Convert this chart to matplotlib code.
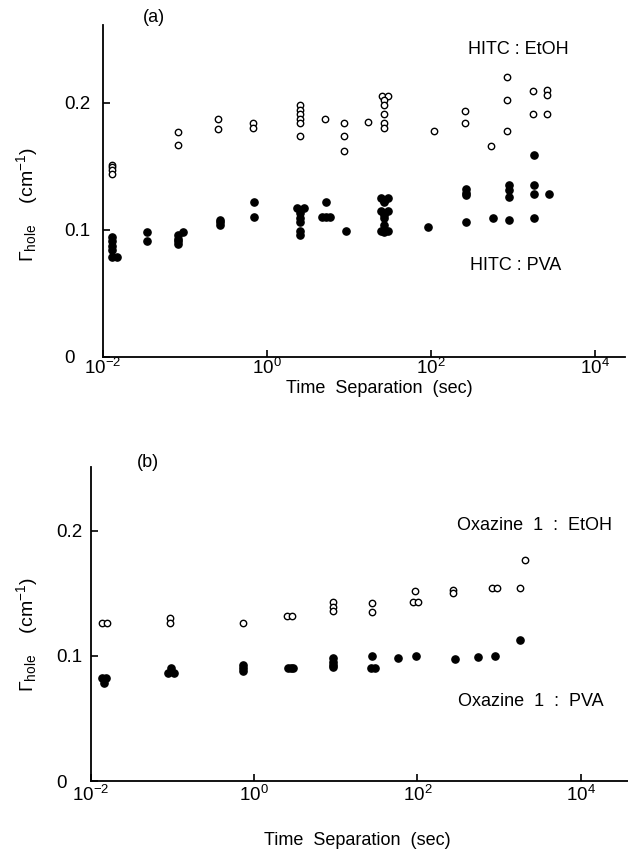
import numpy as np
import matplotlib
matplotlib.use("Agg")
import matplotlib.pyplot as plt
from matplotlib.ticker import FixedLocator

plt.rcParams['font.family'] = ['Liberation Sans', 'DejaVu Sans']
plt.rcParams['mathtext.fontset'] = 'custom'
plt.rcParams['mathtext.rm'] = 'Liberation Sans'
plt.rcParams['mathtext.it'] = 'Liberation Sans:italic'
plt.rcParams['mathtext.bf'] = 'Liberation Sans:bold'

# panel (a): HITC in ethanol (open) and in PVA (filled)
hitc_etoh_t = [0.013, 0.013, 0.013, 0.013, 0.082, 0.082, 0.25, 0.25, 0.67, 0.67,
               2.5, 2.5, 2.5, 2.5, 2.5, 2.5, 5.1, 8.7, 8.7, 8.7, 17,
               25, 30, 27, 27, 27, 27, 27, 110, 260, 260, 540, 850, 850, 850,
               1740, 1740, 2570, 2570, 2570]
hitc_etoh_g = [0.151, 0.149, 0.147, 0.144, 0.177, 0.167, 0.187, 0.179, 0.184, 0.180,
               0.198, 0.194, 0.191, 0.187, 0.184, 0.174, 0.187, 0.184, 0.174, 0.162, 0.185,
               0.205, 0.205, 0.202, 0.198, 0.191, 0.184, 0.180, 0.178, 0.193, 0.184, 0.166,
               0.220, 0.202, 0.178, 0.209, 0.191, 0.210, 0.206, 0.191]

hitc_pva_t = [0.0129, 0.0129, 0.0129, 0.0129, 0.0129, 0.0148, 0.034, 0.034,
              0.095, 0.082, 0.082, 0.082, 0.082, 0.27, 0.27, 0.27, 0.69, 0.69,
              2.3, 2.8, 2.5, 2.5, 2.5, 2.5, 2.5, 5.2, 4.7, 5.2, 5.9, 9.1,
              24.6, 29.7, 27, 27, 24.6, 29.7, 27, 27, 27, 24.6, 29.7, 27,
              91, 270, 270, 270, 270, 575, 890, 890, 890, 890,
              1820, 1820, 1820, 1820, 2750]
hitc_pva_g = [0.094, 0.091, 0.087, 0.084, 0.079, 0.079, 0.098, 0.091,
              0.098, 0.096, 0.093, 0.091, 0.089, 0.108, 0.106, 0.104, 0.122, 0.110,
              0.117, 0.117, 0.113, 0.109, 0.106, 0.099, 0.096, 0.122, 0.110, 0.110, 0.110, 0.099,
              0.125, 0.125, 0.123, 0.122, 0.115, 0.115, 0.112, 0.109, 0.104, 0.099, 0.099, 0.098,
              0.102, 0.132, 0.129, 0.127, 0.106, 0.109, 0.135, 0.131, 0.126, 0.108,
              0.159, 0.135, 0.128, 0.109, 0.128]

# panel (b): Oxazine 1 in ethanol (open) and in PVA (filled)
oxa_etoh_t = [0.0136, 0.0157, 0.093, 0.093, 0.73, 2.5, 2.9, 9.2, 9.2, 9.2,
              27.6, 27.6, 94, 88, 102, 275, 275, 810, 945, 1820, 2100]
oxa_etoh_g = [0.126, 0.126, 0.130, 0.126, 0.126, 0.132, 0.132, 0.143, 0.139, 0.136,
              0.142, 0.135, 0.152, 0.143, 0.143, 0.153, 0.150, 0.154, 0.154, 0.154, 0.177]

oxa_pva_t = [0.0136, 0.0153, 0.0145, 0.095, 0.088, 0.104, 0.73, 0.73, 0.73,
             2.6, 2.8, 3.0, 9.2, 9.2, 9.2, 9.2, 27.6, 26.6, 30,
             58, 95, 290, 550, 890, 1820]
oxa_pva_g = [0.082, 0.082, 0.078, 0.090, 0.086, 0.086, 0.093, 0.090, 0.088,
             0.090, 0.090, 0.090, 0.098, 0.095, 0.093, 0.091, 0.100, 0.090, 0.090,
             0.098, 0.100, 0.0976, 0.099, 0.100, 0.113]

y_ticks = [0, 0.1, 0.2]
y_ticklabels = ['0', '0.1', '0.2']
x_ticks = [1e-2, 1e0, 1e2, 1e4]


def style_axis(ax, xmax, ymax, xpad, ypad):
    ax.set_xscale('log')
    ax.set_xlim(1e-2, xmax)
    ax.set_ylim(0, ymax)
    for side in ['top', 'right']:
        ax.spines[side].set_visible(False)
    for side in ['left', 'bottom']:
        ax.spines[side].set_linewidth(1.3)
    ax.xaxis.set_major_locator(FixedLocator(x_ticks))
    ax.xaxis.set_minor_locator(FixedLocator([]))
    ax.set_yticks(y_ticks)
    ax.set_yticklabels(y_ticklabels)
    for lab in ax.get_yticklabels():
        lab.set_ha('left')
    ax.tick_params(axis='both', direction='in', length=5, width=1.2,
                   labelsize=13.5)
    ax.tick_params(axis='x', pad=xpad)
    ax.tick_params(axis='y', pad=ypad)


def plot_pair(ax, t_open, g_open, t_fill, g_fill):
    ax.plot(t_open, g_open, linestyle='none', marker='o', markersize=4.6,
            markerfacecolor='white', markeredgecolor='black',
            markeredgewidth=1.0, clip_on=False)
    ax.plot(t_fill, g_fill, linestyle='none', marker='o', markersize=5.2,
            markerfacecolor='black', markeredgecolor='black', clip_on=False)


fig = plt.figure(figsize=(6.28, 8.5), dpi=100)

ax0 = fig.add_axes([103 / 628, 1 - 357 / 850, 522 / 628, 332 / 850])
plot_pair(ax0, hitc_etoh_t, hitc_etoh_g, hitc_pva_t, hitc_pva_g)
style_axis(ax0, 10 ** 4.366, 0.261, 1, 28)
ax0.set_xlabel('Time  Separation  (sec)', fontsize=13)
ax0.xaxis.set_label_coords(0.53, -0.07)
ax0.set_ylabel(r'$\Gamma_{\mathrm{hole}}$    (cm$^{-1}$)', fontsize=14)
ax0.yaxis.set_label_coords(-0.12, 0.46)
ax0.text(0.077, 1.024, '(a)', transform=ax0.transAxes, fontsize=13,
         ha='left', va='center')
ax0.text(0.699, 0.925, 'HITC : EtOH', transform=ax0.transAxes, fontsize=13,
         ha='left', va='center')
ax0.text(0.703, 0.277, 'HITC : PVA', transform=ax0.transAxes, fontsize=13,
         ha='left', va='center')

ax1 = fig.add_axes([91 / 628, 1 - 781 / 850, 537 / 628, 314 / 850])
plot_pair(ax1, oxa_etoh_t, oxa_etoh_g, oxa_pva_t, oxa_pva_g)
style_axis(ax1, 10 ** 4.58, 0.251, 3, 25)
ax1.set_xlabel('Time  Separation  (sec)', fontsize=13)
ax1.xaxis.set_label_coords(0.495, -0.162)
ax1.set_ylabel(r'$\Gamma_{\mathrm{hole}}$    (cm$^{-1}$)', fontsize=14)
ax1.yaxis.set_label_coords(-0.095, 0.465)
ax1.text(0.086, 1.013, '(b)', transform=ax1.transAxes, fontsize=13,
         ha='left', va='center')
ax1.text(0.682, 0.815, 'Oxazine  1  :  EtOH', transform=ax1.transAxes,
         fontsize=13, ha='left', va='center')
ax1.text(0.683, 0.252, 'Oxazine  1  :  PVA', transform=ax1.transAxes,
         fontsize=13, ha='left', va='center')

fig.savefig('out.png', dpi=100)
